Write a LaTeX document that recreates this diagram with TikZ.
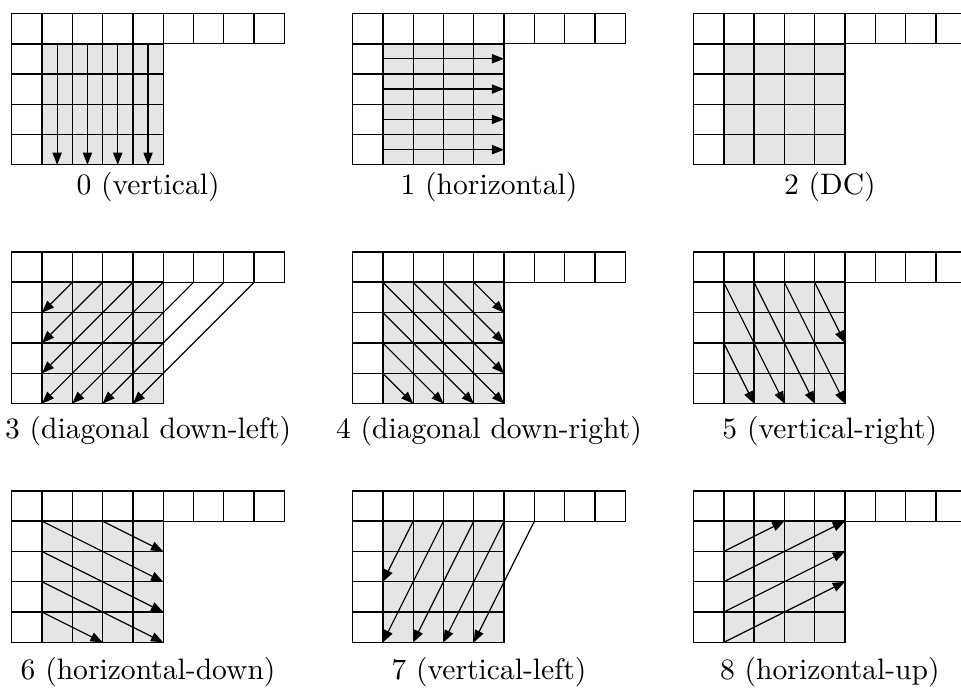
\documentclass[tikz,border=0pt]{standalone}
\usepackage{tikz}
\usetikzlibrary{arrows.meta}

% one panel: top row of 9 samples, left column of 4, and the 4x4 block
\newcommand{\predgrid}{%
  \fill[blockfill] (1,-5) rectangle (5,-1);
  \foreach \i in {0,...,8} \draw[cell] (\i,0) rectangle ++(1,-1);
  \foreach \j in {1,...,4} {
    \draw[cell] (0,-\j) rectangle ++(1,-1);
    \foreach \i in {1,...,4} \draw[cell] (\i,-\j) rectangle ++(1,-1);
  }
  \draw[edge] (1,0) -- (1,-5);
  \draw[edge] (0,-1) -- (5,-1);
}

\begin{document}
\begin{tikzpicture}[
			x=0.36cm, y=0.36cm,
			blockfill/.style={fill=black!10},
			cell/.style={draw=black, line width=0.45pt},
			edge/.style={draw=black, line width=0.7pt},
			pred/.style={line width=0.4pt, -{Triangle[length=1.45mm, width=1.1mm]}},
			modelabel/.style={inner sep=0pt, anchor=center}
			]
			\useasboundingbox (-0.386,0.44) rectangle (31.33,-22.33);
			
			% Modo 0
			\begin{scope}[shift={(0,0)}]
				\predgrid
				\foreach \x in {1.5,2.5,3.5,4.5} \draw[pred] (\x,-1) -- (\x,-5);
				\node[modelabel] (m0) at (4.5,-5.75) {0 (vertical)};
			\end{scope}
			
			% Modo 1
			\begin{scope}[shift={(11.25,0)}]
				\predgrid
				\foreach \y in {1.5,2.5,3.5,4.5} \draw[pred] (1,-\y) -- (5,-\y);
				\node[modelabel] (m1) at (4.5,-5.75) {1 (horizontal)};
			\end{scope}
			
			% Modo 2
			\begin{scope}[shift={(22.5,0)}]
				\predgrid
				\node[modelabel] (m2) at (4.5,-5.75) {2 (DC)};
			\end{scope}
			
			% Modo 3
			\begin{scope}[shift={(0,-7.88)}]
				\predgrid
				\foreach \k in {2,...,5} \draw[pred] (\k,-1) -- (1,-\k);
				\foreach \k in {6,7,8} \draw[pred] (\k,-1) -- ({\k-4},-5);
				\node[modelabel] (m3) at (4.5,-5.9) {3 (diagonal down-left)};
			\end{scope}
			
			% Modo 4
			\begin{scope}[shift={(11.25,-7.88)}]
				\predgrid
				\foreach \k in {1,...,4} \draw[pred] (\k,-1) -- (5,{\k-6});
				\foreach \k in {2,3,4} \draw[pred] (1,-\k) -- ({6-\k},-5);
				\node[modelabel] (m4) at (4.5,-5.9) {4 (diagonal down-right)};
			\end{scope}
			
			% Modo 5
			\begin{scope}[shift={(22.5,-7.88)}]
				\predgrid
				\foreach \k in {1,2,3} \draw[pred] (\k,-1) -- ({\k+2},-5);
				\draw[pred] (4,-1) -- (5,-3);
				\draw[pred] (1,-3) -- (2,-5);
				\node[modelabel] (m5) at (4.5,-5.9) {5 (vertical-right)};
			\end{scope}
			
			% Modo 6
			\begin{scope}[shift={(0,-15.76)}]
				\predgrid
				\foreach \k in {1,2,3} \draw[pred] (1,-\k) -- (5,{-\k-2});
				\draw[pred] (3,-1) -- (5,-2);
				\draw[pred] (1,-4) -- (3,-5);
				\node[modelabel] (m6) at (4.5,-5.97) {6 (horizontal-down)};
			\end{scope}
			
			% Modo 7
			\begin{scope}[shift={(11.25,-15.76)}]
				\predgrid
				\draw[pred] (2,-1) -- (1,-3);
				\foreach \k in {3,...,6} \draw[pred] (\k,-1) -- ({\k-2},-5);
				\node[modelabel] (m7) at (4.5,-5.97) {7 (vertical-left)};
			\end{scope}
			
			% Modo 8
			\begin{scope}[shift={(22.5,-15.76)}]
				\predgrid
				\draw[pred] (1,-2) -- (3,-1);
				\foreach \k in {3,4,5} \draw[pred] (1,-\k) -- (5,{-\k+2});
				\node[modelabel] (m8) at (4.5,-5.97) {8 (horizontal-up)};
			\end{scope}
			
		\end{tikzpicture}
\end{document}
